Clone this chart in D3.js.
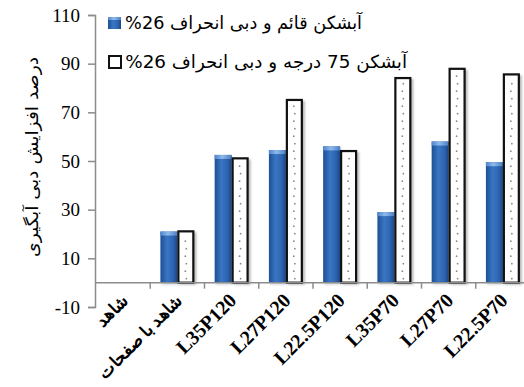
<!DOCTYPE html>
<html>
<head>
<meta charset="utf-8">
<script src="https://cdn.jsdelivr.net/npm/d3@7/dist/d3.min.js"></script>
<style>
  html, body { margin: 0; padding: 0; background: #fff; }
  svg { display: block; }
</style>
</head>
<body>
<script>
// Categories (tests) and the two series of discharge increase (%)
const categories = ["شاهد", "شاهد با صفحات", "L35P120", "L27P120", "L22.5P120", "L35P70", "L27P70", "L22.5P70"];
const seriesNames = ["آبشکن قائم و دبی انحراف 26%", "آبشکن 75 درجه و دبی انحراف 26%"];
const verticalValues = [0, 21, 52.5, 54.5, 56, 29, 58, 49.5];
const angledValues = [0, 21.5, 51.5, 75.5, 54.5, 84.5, 88.3, 86];
const yTicks = [-10, 10, 30, 50, 70, 90, 110];
const yTitle = "درصد افزایش دبی آبگیری";

const W = 524, H = 387;
const svg = d3.select("body").append("svg").attr("width", W).attr("height", H);
const defs = svg.append("defs");

// cylinder-like shading of the blue bars
const g1 = defs.append("linearGradient").attr("id", "blueGrad").attr("x1", "0").attr("x2", "1").attr("y1", "0").attr("y2", "0");
g1.append("stop").attr("offset", "0%").attr("stop-color", "#1d4f95");
g1.append("stop").attr("offset", "40%").attr("stop-color", "#3a76c4");
g1.append("stop").attr("offset", "75%").attr("stop-color", "#2d64b0");
g1.append("stop").attr("offset", "100%").attr("stop-color", "#1a4585");

const gCap = defs.append("linearGradient").attr("id", "capGrad").attr("x1", "0").attr("x2", "1").attr("y1", "0").attr("y2", "0");
gCap.append("stop").attr("offset", "0%").attr("stop-color", "#4f86cc");
gCap.append("stop").attr("offset", "45%").attr("stop-color", "#8fb9ea");
gCap.append("stop").attr("offset", "100%").attr("stop-color", "#4a7fc4");

const shadow = defs.append("filter").attr("id", "soft").attr("x", "-30%").attr("y", "-10%").attr("width", "160%").attr("height", "130%");
shadow.append("feGaussianBlur").attr("stdDeviation", 1.2);

const y = d3.scaleLinear().domain([-10, 110]).range([307, 15]);
const x0 = d3.scaleBand().domain(categories).range([96, 530]).padding(0);
const x1 = d3.scaleBand().domain([0, 1]).range([0, x0.bandwidth()]).paddingInner(0).paddingOuter(0.6);

const axisColor = "#8c8c8c";

// Right-to-left text stretched horizontally to a given width (keeps bidi ordering intact)
function rtlText(parent, str, size, width) {
  const g = parent.append("g");
  const t = g.append("text")
    .attr("direction", "rtl")
    .style("unicode-bidi", "embed")
    .attr("text-anchor", "start")
    .attr("font-family", "'DejaVu Sans', sans-serif")
    .attr("font-size", size)
    .text(str);
  const w = t.node().getBBox().width;
  return { g, sx: width / w };
}

// y axis
const yAxis = svg.append("g").attr("transform", `translate(${x0.range()[0] - 1},0)`)
  .call(d3.axisLeft(y).tickValues(yTicks).tickSize(7).tickPadding(8).tickFormat(d => String(d)));
yAxis.select(".domain").attr("stroke", axisColor).attr("stroke-width", 1.5);
yAxis.selectAll(".tick line").attr("stroke", axisColor).attr("stroke-width", 1.5);
yAxis.selectAll(".tick text").attr("font-family", "'Liberation Serif', 'Times New Roman', serif")
  .attr("font-size", 19).attr("fill", "#000");

// y title: starts at the top, reads downwards
{
  const r = rtlText(svg, yTitle, 17, 200);
  r.g.attr("transform", `translate(38,57) rotate(-90) scale(${r.sx},1)`);
}

// bars
const groups = svg.append("g").selectAll("g").data(categories).join("g")
  .attr("transform", d => `translate(${x0(d)},0)`);

groups.each(function (cat, i) {
  const g = d3.select(this);
  const bw = x1.bandwidth();
  // blue bar
  const v0 = verticalValues[i];
  if (v0 > 0) {
    const top = y(v0), bot = y(0);
    g.append("rect").attr("x", x1(0) + 1).attr("y", top + 2).attr("width", bw).attr("height", bot - top)
      .attr("fill", "#9aa6b8").attr("opacity", 0.45).attr("filter", "url(#soft)");
    g.append("rect").attr("x", x1(0)).attr("y", top).attr("width", bw).attr("height", bot - top)
      .attr("fill", "url(#blueGrad)");
    g.append("rect").attr("x", x1(0)).attr("y", top).attr("width", bw).attr("height", 4)
      .attr("fill", "url(#capGrad)");
  }
  // white dotted bar
  const v1 = angledValues[i];
  if (v1 > 0) {
    const top = y(v1), bot = y(0);
    const bx = x1(1);
    g.append("rect").attr("x", bx + 2).attr("y", top + 2).attr("width", bw).attr("height", bot - top)
      .attr("fill", "#6e6e6e").attr("opacity", 0.5).attr("filter", "url(#soft)");
    g.append("rect").attr("x", bx + 1).attr("y", top + 1).attr("width", bw - 2).attr("height", bot - top - 1)
      .attr("fill", "#fff").attr("stroke", "#111").attr("stroke-width", 2.2);
    const dots = d3.range(bot - 4, top + 5, -7.5);
    g.selectAll(null).data(dots).join("circle")
      .attr("cx", (d, k) => bx + bw / 2 + (k % 2 ? -0.5 : 0.5))
      .attr("cy", d => d)
      .attr("r", 0.9)
      .attr("fill", "#8a8a8a");
  }
});

// x axis along zero
const xAxisG = svg.append("g");
xAxisG.append("line").attr("x1", x0.range()[0] - 1).attr("x2", W).attr("y1", y(0)).attr("y2", y(0))
  .attr("stroke", axisColor).attr("stroke-width", 1.5);
xAxisG.selectAll("line.tk").data(categories.slice(1)).join("line").attr("class", "tk")
  .attr("x1", d => x0(d)).attr("x2", d => x0(d))
  .attr("y1", y(0)).attr("y2", y(0) + 6)
  .attr("stroke", axisColor).attr("stroke-width", 1.5);

// category labels, rotated
svg.append("g").selectAll("text").data(categories).join("text")
  .attr("transform", d => `translate(${x0(d) + x0.bandwidth() / 2 + 6},${y(0) + 19}) rotate(-45)`)
  .attr("text-anchor", "end")
  .attr("font-family", "'Liberation Serif', 'DejaVu Serif', serif")
  .attr("font-weight", "bold")
  .attr("font-size", d => /^L/.test(d) ? 20 : 17)
  .attr("fill", "#000")
  .text(d => d);

// legend
const legend = svg.append("g");
const legendRows = [{ name: seriesNames[0], y: 23, kind: 0, right: 362 }, { name: seriesNames[1], y: 62, kind: 1, right: 407 }];
legendRows.forEach(row => {
  if (row.kind === 0) {
    legend.append("rect").attr("x", 108).attr("y", row.y - 6).attr("width", 13).attr("height", 12).attr("fill", "url(#blueGrad)");
    legend.append("rect").attr("x", 108).attr("y", row.y - 6).attr("width", 13).attr("height", 3).attr("fill", "url(#capGrad)");
  } else {
    legend.append("rect").attr("x", 109).attr("y", row.y - 6).attr("width", 12).attr("height", 12)
      .attr("fill", "#fff").attr("stroke", "#111").attr("stroke-width", 2);
  }
  const r = rtlText(legend, row.name, 18, row.right - 124);
  r.g.attr("transform", `translate(${row.right},${row.y + 6}) scale(${r.sx},1)`);
});
</script>
</body>
</html>
